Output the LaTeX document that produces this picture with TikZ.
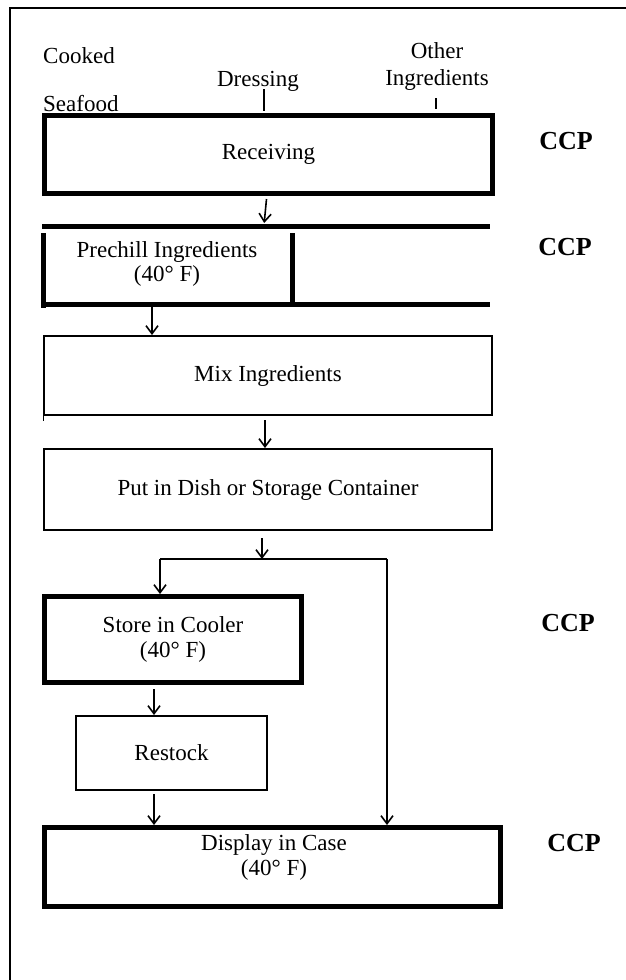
\documentclass[tikz,border=0pt]{standalone}
\usepackage{fontspec}
\setmainfont{Liberation Serif}
\usetikzlibrary{arrows.meta,calc}
\tikzset{
  txt/.style={inner sep=0pt, font=\fontsize{23}{25}\selectfont, align=center},
  ccp/.style={inner sep=0pt, font=\fontsize{26}{28}\selectfont\bfseries},
  thickbox/.style={draw, line width=5pt, inner sep=0pt, font=\fontsize{23}{25}\selectfont, align=center},
  thinbox/.style={draw, line width=2pt, inner sep=0pt, font=\fontsize{23}{25}\selectfont, align=center},
  thickline/.style={line width=5pt},
  conn/.style={line width=1.6pt},
  arr/.style={line width=1.6pt, -{Straight Barb[length=8pt,width=12pt,line width=1.6pt]}},
}
\begin{document}
\begin{tikzpicture}[x=1pt,y=-1pt]
\useasboundingbox (0,0) rectangle (626,980);
% outer frame
\draw[line width=2.5pt] (10,980) -- (10,8) -- (626,8);

% sources
\node[txt, anchor=west] (cooked) at (43,56) {Cooked};
\node[txt, anchor=west] (seafood) at (43,104) {Seafood};
\node[txt] (dress) at (258,81) {Dressing};
\node[txt, font=\fontsize{23}{27}\selectfont] (other) at (437,67) {Other\\Ingredients};

% Receiving
\node[thickbox, anchor=north west, minimum width=448pt, minimum height=78pt] (recv) at (42,113) {Receiving};
\draw[conn] (264,89) -- (264,111);
\draw[conn] (436,98) -- (436,109);
\node[ccp] (ccp1) at (566,141) {CCP};

% Prechill
\node[anchor=north west, inner sep=0pt, minimum width=448pt, minimum height=78pt] (pre) at (42,226) {};
\node[txt, font=\fontsize{23}{24}\selectfont] (prel) at (167,264) {Prechill Ingredients\\(40° F)};
\draw[thickline] (pre.north west) -- (pre.north east);
\draw[thickline] (pre.south west) -- (pre.south east);
\draw[thickline] ([xshift=1pt,yshift=-7pt]pre.north west) -- ([xshift=1pt,yshift=-4pt]pre.south west);
\draw[thickline] ([yshift=-7pt]pre.north west -| 292,0) -- (pre.south west -| 292,0);
\node[ccp] (ccp2) at (565,247) {CCP};
\draw[arr] ([xshift=-2pt,yshift=-3pt]recv.south) -- ([xshift=-2pt,yshift=3pt]pre.north);

% Mix
\node[thinbox, anchor=north west, minimum width=448pt, minimum height=79pt] (mix) at (43,335) {Mix Ingredients};
\draw[line width=1pt] (mix.south west) -- ++(0,5);
\draw[arr] (pre.south west -| 152,0) ++(0,3) -- (152,0 |- mix.north);

% Put
\node[thinbox, anchor=north west, minimum width=448pt, minimum height=81pt] (put) at (43,448) {Put in Dish or Storage Container};
\draw[arr] ([xshift=-3pt,yshift=-4pt]mix.south) -- ([xshift=-3pt]mix.south |- put.north);

% branch
\coordinate (brL) at (160,559);
\coordinate (brR) at (387,559);
\coordinate (brM) at (262,559);
\draw[conn] (brL) -- (brR);
\draw[arr] (put.south -| brM) ++(0,7) -- (brM);

% Store
\node[thickbox, anchor=north west, minimum width=257pt, minimum height=86pt] (store) at (42,594) {Store in Cooler\\(40° F)};
\node[ccp] (ccp3) at (568,623) {CCP};
\draw[arr] (brL) -- (brL |- store.north);

% Restock
\node[thinbox, anchor=north west, minimum width=191pt, minimum height=74pt] (rest) at (75,715) {Restock};
\draw[arr] ([yshift=-4pt]store.south -| 154,0) -- (154,0 |- rest.north);

% Display
\node[thickbox, anchor=north west, minimum width=456pt, minimum height=79pt] (disp) at (42,825) {};
\node[txt] (dispT) at (274,857) {Display in Case\\(40° F)};
\node[ccp] (ccp4) at (574,843) {CCP};
\draw[arr] ([yshift=-3pt]rest.south -| 154,0) -- (154,0 |- disp.north);
\draw[arr] (brR) -- (brR |- disp.north);
\end{tikzpicture}
\end{document}
